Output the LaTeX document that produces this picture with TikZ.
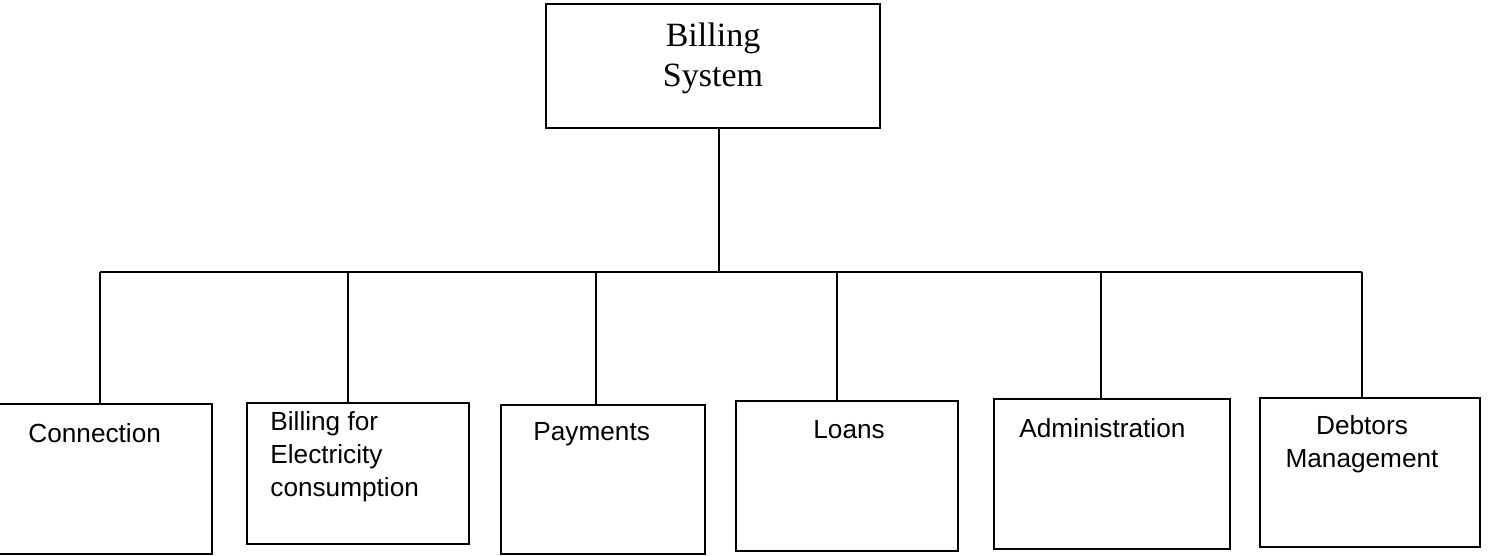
\documentclass[tikz,border=0pt]{standalone}
\usepackage{fontspec}
\setmainfont{Liberation Serif}
\newfontfamily\labelfont{Liberation Sans}
\begin{document}
\begin{tikzpicture}[x=0.5pt,y=-0.5pt,
  box/.style={draw,line width=1.1pt,rectangle,inner sep=0pt},
  lbl/.style={inner sep=0pt,font=\labelfont\fontsize{13.1}{16.5}\selectfont},
  toplbl/.style={inner sep=0pt,align=center,font=\fontsize{17}{20}\selectfont},
  link/.style={line width=1pt}]
\useasboundingbox (0,0) rectangle (1489,556);
% boxes
\node[box,minimum width=167pt,minimum height=62pt] (top) at (713,66) {};
\node[box,minimum width=111pt,minimum height=75pt] (conn) at (101,479) {};
\node[box,minimum width=111pt,minimum height=70.5pt] (bill) at (358,473.5) {};
\node[box,minimum width=102pt,minimum height=74.5pt] (pay) at (603,479.5) {};
\node[box,minimum width=111pt,minimum height=75pt] (loan) at (847,476) {};
\node[box,minimum width=118pt,minimum height=75pt] (admin) at (1112,474) {};
\node[box,minimum width=110pt,minimum height=74.5pt] (debt) at (1370,472.5) {};
% labels
\node[toplbl] (ttop) at (713,58) {Billing\\System};
\node[lbl,anchor=west] (tconn) at (28,433) {Connection};
\node[lbl,anchor=west,align=left] (tbill) at (270,457) {Billing for\\Electricity\\consumption};
\node[lbl,anchor=west] (tpay) at (533,434) {Payments};
\node[lbl,anchor=west] (tloan) at (813,430) {Loans};
\node[lbl,anchor=west] (tadmin) at (1019,428) {Administration};
\node[lbl,align=center] (tdebt) at (1362,444) {Debtors\\Management};
% bus
\coordinate (j) at (719,272);
\coordinate (bl) at (100,272);
\coordinate (br) at (1362,272);
\coordinate (d2) at (348,272);
\coordinate (d3) at (596,272);
\coordinate (d4) at (837,272);
\coordinate (d5) at (1101,272);
\draw[link] (top.south -| j) -- (j);
\draw[link] (bl) -- (br);
\draw[link] (bl) -- (bl |- conn.north);
\draw[link] (d2) -- (d2 |- bill.north);
\draw[link] (d3) -- (d3 |- pay.north);
\draw[link] (d4) -- (d4 |- loan.north);
\draw[link] (d5) -- (d5 |- admin.north);
\draw[link] (br) -- (br |- debt.north);
\end{tikzpicture}
\end{document}
